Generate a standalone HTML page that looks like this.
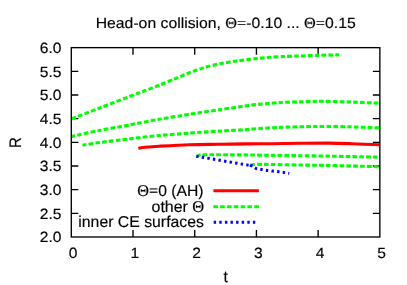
<!DOCTYPE html>
<html><head><meta charset="utf-8"><title>Head-on collision</title>
<style>html,body{margin:0;padding:0;background:#fff;font-family:"Liberation Sans",sans-serif;}#c{will-change:transform;position:relative;width:407px;height:285px;overflow:hidden}</style>
</head><body><div id="c">
<svg width="407" height="285" viewBox="0 0 407 285" style="position:absolute;left:0;top:0">
<rect width="407" height="285" fill="#fff"/>
<rect x="71.3" y="47.65" width="308.55" height="189.35" fill="none" stroke="#000" stroke-width="1.35"/>
<path d="M71.3,213.33h7 M379.85,213.33h-7 M71.3,189.66h7 M379.85,189.66h-7 M71.3,165.99h7 M379.85,165.99h-7 M71.3,142.32h7 M379.85,142.32h-7 M71.3,118.66h7 M379.85,118.66h-7 M71.3,94.99h7 M379.85,94.99h-7 M71.3,71.32h7 M379.85,71.32h-7 M133.01,237.0v-7 M133.01,47.65v7 M194.72,237.0v-7 M194.72,47.65v7 M256.43,237.0v-7 M256.43,47.65v7 M318.14,237.0v-7 M318.14,47.65v7 " stroke="#000" stroke-width="1.35" fill="none"/>
<clipPath id="cp"><rect x="72.0" y="48" width="307.3" height="188.7"/></clipPath>
<g clip-path="url(#cp)" fill="none">
<path d="M71.80,118.80 C75.69,117.29 93.04,110.57 101.00,107.50 C108.96,104.43 125.67,98.03 131.50,95.80 C137.33,93.57 140.97,92.23 144.70,90.80 C148.43,89.37 155.57,86.66 159.50,85.10 C163.43,83.54 170.20,80.74 174.20,79.10 C178.20,77.46 185.43,74.36 189.50,72.80 C193.57,71.24 200.70,68.59 204.70,67.40 C208.70,66.21 215.57,64.71 219.50,63.90 C223.43,63.09 231.47,61.74 234.20,61.30 C236.93,60.86 237.27,60.95 240.00,60.60 C242.73,60.25 250.77,59.14 254.70,58.70 C258.63,58.26 265.57,57.59 269.50,57.30 C273.43,57.01 280.27,56.67 284.20,56.50 C288.13,56.33 294.49,56.15 299.00,56.00 C303.51,55.85 312.63,55.56 318.00,55.40 C323.37,55.24 336.46,54.88 339.30,54.80" stroke="#00ff00" stroke-width="3.1" stroke-dasharray="4.6 2.250"/>
<path d="M71.80,136.50 C75.49,135.69 92.07,131.88 99.50,130.40 C106.93,128.92 123.05,126.21 127.50,125.40 C131.95,124.59 128.63,125.13 132.90,124.30 C137.17,123.47 152.31,120.48 159.50,119.20 C166.69,117.92 182.35,115.43 186.80,114.70 C191.25,113.97 188.54,114.37 192.90,113.70 C197.26,113.03 212.31,110.75 219.50,109.70 C226.69,108.65 242.35,106.44 246.80,105.80 C251.25,105.16 248.54,105.33 252.90,104.90 C257.26,104.47 272.22,103.04 279.50,102.60 C286.78,102.16 301.90,101.77 307.50,101.60 C313.10,101.43 315.90,101.25 321.50,101.30 C327.10,101.35 341.79,101.75 349.50,102.00 C357.21,102.25 375.33,103.04 379.30,103.20" stroke="#00ff00" stroke-width="3.1" stroke-dasharray="4.6 2.200" stroke-dashoffset="1.2"/>
<path d="M82.50,145.20 C84.77,144.84 93.50,143.30 99.50,142.50 C105.50,141.70 123.23,139.72 127.50,139.20 C131.77,138.68 127.23,139.10 131.50,138.60 C135.77,138.10 152.18,136.14 159.50,135.45 C166.82,134.76 182.04,133.74 186.40,133.40 C190.76,133.06 187.79,133.21 192.20,132.90 C196.61,132.59 212.22,131.54 219.50,131.10 C226.78,130.66 242.35,129.88 246.80,129.60 C251.25,129.32 248.54,129.29 252.90,129.00 C257.26,128.71 272.22,127.72 279.50,127.40 C286.78,127.08 301.90,126.72 307.50,126.60 C313.10,126.48 315.90,126.47 321.50,126.50 C327.10,126.53 341.79,126.61 349.50,126.80 C357.21,126.99 375.33,127.75 379.30,127.90" stroke="#00ff00" stroke-width="3.1" stroke-dasharray="4.6 2.225" stroke-dashoffset="0.6"/>
<path d="M197.20,156.00 C197.57,155.87 198.96,155.16 200.00,155.00 C201.04,154.84 199.00,154.81 205.00,154.80 C211.00,154.79 235.93,154.82 245.00,154.90 C254.07,154.98 265.73,155.29 273.00,155.40 C280.27,155.51 292.23,155.61 299.50,155.70 C306.77,155.79 320.57,155.98 327.50,156.10 C334.43,156.22 344.59,156.45 351.50,156.60 C358.41,156.75 375.59,157.12 379.30,157.20" stroke="#00ff00" stroke-width="3.1" stroke-dasharray="4.6 2.205" stroke-dashoffset="1.0"/>
<path d="M250.60,165.20 C251.05,165.11 252.48,164.61 254.00,164.50 C255.52,164.39 259.47,164.40 262.00,164.40 C264.53,164.40 268.00,164.42 273.00,164.50 C278.00,164.58 292.23,164.88 299.50,165.00 C306.77,165.12 320.57,165.27 327.50,165.40 C334.43,165.53 344.59,165.83 351.50,166.00 C358.41,166.17 375.59,166.61 379.30,166.70" stroke="#00ff00" stroke-width="3.1" stroke-dasharray="4.6 2.250"/>
<path d="M138.40,148.50 C138.75,148.41 140.12,147.97 141.00,147.80 C141.88,147.63 142.53,147.46 145.00,147.25 C147.47,147.04 153.63,146.54 159.50,146.20 C165.37,145.86 180.93,144.95 189.00,144.70 C197.07,144.45 212.53,144.41 220.00,144.30 C227.47,144.19 238.33,143.98 245.00,143.90 C251.67,143.82 262.73,143.78 270.00,143.70 C277.27,143.62 291.63,143.38 299.50,143.30 C307.37,143.22 322.07,143.05 329.00,143.10 C335.93,143.15 344.79,143.47 351.50,143.70 C358.21,143.93 375.59,144.65 379.30,144.80" stroke="#ff0000" stroke-width="3.1" stroke-linejoin="round"/>
<path d="M196.2,156.2 L252.4,165.9" stroke="#0000ff" stroke-width="3" stroke-dasharray="2.4 3.245"/>
<path d="M250.0,165.0 L256.2,168.5 L261.8,169.5 L267.3,170.4 L272.9,171.1 L278.5,171.7 L283.9,172.4 L289.3,173.4" stroke="#0000ff" stroke-width="3" stroke-dasharray="2.4 3.25"/>
</g>
<path d="M213.4,190.7 H258.9" stroke="#ff0000" stroke-width="3.1" fill="none"/>
<path d="M213.3,206.7 H258.9" stroke="#00ff00" stroke-width="3.1" stroke-dasharray="4.6 2.23" fill="none"/>
<path d="M213.7,222.2 H257" stroke="#0000ff" stroke-width="3" stroke-dasharray="2.4 3.2" fill="none"/>
<filter id="f" x="-5%" y="-5%" width="110%" height="110%"><feOffset dx="0" dy="0"/></filter><g filter="url(#f)" text-rendering="geometricPrecision" font-family="Liberation Sans, sans-serif" font-size="14.9" fill="#000" stroke="#000" stroke-width="0.15">
<text transform="translate(61.50,242.40) scale(1.047,1)" text-anchor="end">2.0</text>
<text transform="translate(61.50,218.73) scale(1.047,1)" text-anchor="end">2.5</text>
<text transform="translate(61.50,195.06) scale(1.047,1)" text-anchor="end">3.0</text>
<text transform="translate(61.50,171.39) scale(1.047,1)" text-anchor="end">3.5</text>
<text transform="translate(61.50,147.72) scale(1.047,1)" text-anchor="end">4.0</text>
<text transform="translate(61.50,124.06) scale(1.047,1)" text-anchor="end">4.5</text>
<text transform="translate(61.50,100.39) scale(1.047,1)" text-anchor="end">5.0</text>
<text transform="translate(61.50,76.72) scale(1.047,1)" text-anchor="end">5.5</text>
<text transform="translate(61.50,53.05) scale(1.047,1)" text-anchor="end">6.0</text>
<text transform="translate(73.15,257.65) scale(1.047,1)" text-anchor="middle">0</text>
<text transform="translate(134.86,257.65) scale(1.047,1)" text-anchor="middle">1</text>
<text transform="translate(196.57,257.65) scale(1.047,1)" text-anchor="middle">2</text>
<text transform="translate(258.28,257.65) scale(1.047,1)" text-anchor="middle">3</text>
<text transform="translate(319.99,257.65) scale(1.047,1)" text-anchor="middle">4</text>
<text transform="translate(381.70,257.65) scale(1.047,1)" text-anchor="middle">5</text>
<text transform="translate(225.70,28.25) scale(1.058,1)" text-anchor="middle">Head-on collision, <tspan font-family="Liberation Serif, serif" font-size="15.4">Θ=</tspan>-0.10 ... <tspan font-family="Liberation Serif, serif" font-size="15.4">Θ=</tspan>0.15</text>
<text transform="translate(225.70,282.30) scale(1.047,1.06)" text-anchor="middle">t</text>
<text transform="translate(21.20,142.70) rotate(-90) scale(1.0,1.12)" text-anchor="middle">R</text>
<text transform="translate(203.60,196.10) scale(1.055,1.06)" text-anchor="end"><tspan font-family="Liberation Serif, serif" font-size="15.4">Θ=</tspan>0 (AH)</text>
<text transform="translate(204.20,211.60) scale(1.07,1.06)" text-anchor="end">other <tspan font-family="Liberation Serif, serif" font-size="15.4">Θ</tspan></text>
<text transform="translate(203.90,227.10) scale(1.061,1.06)" text-anchor="end">inner CE surfaces</text>
</g>
</svg>
</div></body></html>
